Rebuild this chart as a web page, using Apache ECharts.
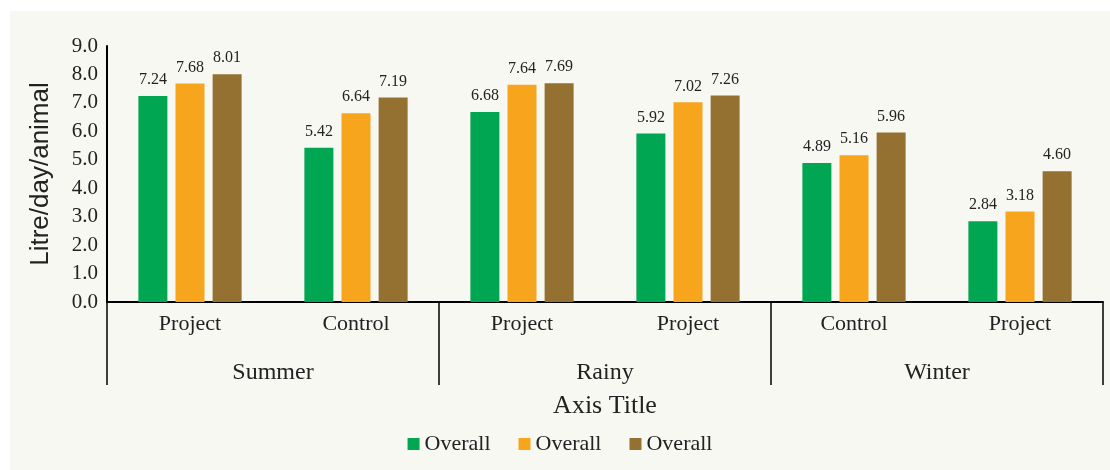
<!DOCTYPE html>
<html>
<head>
<meta charset="utf-8">
<script src="https://cdn.jsdelivr.net/npm/echarts@6/dist/echarts.min.js"></script>
<style>
  html, body { margin: 0; padding: 0; background: #fff; }
  #chart { position: absolute; left: 10px; top: 11px; width: 1100px; height: 459px; background: #f8f8f3; }
</style>
</head>
<body>
<div id="chart"></div>
<script>
  // categories
  var treatments = ['Project', 'Control', 'Project', 'Project', 'Control', 'Project'];
  var seasons = ['Summer', 'Rainy', 'Winter'];
  // series values (litre/day/animal)
  var greenValues = [7.24, 5.42, 6.68, 5.92, 4.89, 2.84];
  var orangeValues = [7.68, 6.64, 7.64, 7.02, 5.16, 3.18];
  var brownValues = [8.01, 7.19, 7.69, 7.26, 5.96, 4.60];
  var yTicks = { min: 0, max: 9, step: 1 };

  var serif = 'Liberation Serif';
  var chart = echarts.init(document.getElementById('chart'));

  function barSeries(name, values, color) {
    return {
      name: name,
      type: 'bar',
      data: values,
      barWidth: 29,
      barGap: '28%',
      itemStyle: { color: color },
      label: {
        show: true,
        position: 'top',
        distance: 8,
        color: '#222',
        fontFamily: serif,
        fontSize: 16,
        formatter: function (p) { return p.value.toFixed(2) }
      }
    }
  }

  var options = {
    animation: false,
    grid: { left: 97, right: 7, top: 35, bottom: 168 },
    legend: {
      bottom: 10,
      left: 'center',
      icon: 'rect',
      itemWidth: 12,
      itemHeight: 12,
      itemGap: 28,
      formatter: function () { return 'Overall' },
      textStyle: { fontFamily: serif, fontSize: 22, color: '#222' }
    },
    xAxis: [{
      type: 'category',
      data: treatments,
      axisLine: { lineStyle: { color: '#000', width: 2 } },
      axisTick: { show: false },
      axisLabel: { interval: 0, margin: 11, color: '#222', fontFamily: serif, fontSize: 22 }
    }, {
      type: 'category',
      data: seasons,
      position: 'bottom',
      boundaryGap: true,
      axisLine: { show: false },
      axisTick: { show: true, interval: 0, length: 83, lineStyle: { color: '#000', width: 1.5 } },
      axisLabel: { interval: 0, margin: 59, color: '#222', fontFamily: serif, fontSize: 24 },
      name: 'Axis Title',
      nameLocation: 'middle',
      nameGap: 91,
      nameTextStyle: { fontFamily: serif, fontSize: 26, color: '#222' }
    }],
    yAxis: {
      type: 'value',
      min: yTicks.min,
      max: yTicks.max,
      interval: yTicks.step,
      name: 'Litre/day/animal',
      nameLocation: 'middle',
      nameGap: 53,
      nameTextStyle: { fontFamily: 'Liberation Sans', fontSize: 26, color: '#222' },
      axisLine: { show: true, lineStyle: { color: '#000', width: 2 } },
      axisTick: { show: false },
      splitLine: { show: false },
      axisLabel: {
        margin: 9,
        color: '#222',
        fontFamily: serif,
        fontSize: 21,
        formatter: function (v) { return v.toFixed(1) }
      }
    },
    series: [
      barSeries('Overall 1', greenValues, '#00a651'),
      barSeries('Overall 2', orangeValues, '#f8a51e'),
      barSeries('Overall 3', brownValues, '#957131')
    ]
  };
  chart.setOption(options);
</script>
</body>
</html>
